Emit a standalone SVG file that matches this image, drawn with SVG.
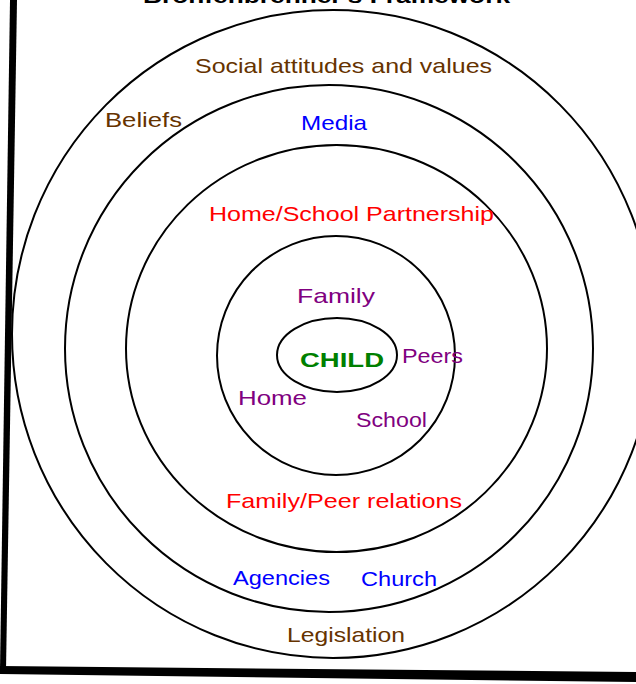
<svg xmlns="http://www.w3.org/2000/svg" width="636" height="684" viewBox="0 0 636 684">
  <style>
    .ring { fill: none; stroke: #000; stroke-width: 2; }
    .lbl { font-family: "Liberation Sans", Arial, sans-serif; font-size: 21px; }
    .brown { fill: #663300; }
    .blue { fill: #0000FF; }
    .red { fill: #FF0000; }
    .purple { fill: #800080; }
    .green { fill: #008000; }
  </style>
  <rect width="636" height="684" fill="#fff"/>

  <!-- title, partly off the top edge -->
  <text class="lbl" x="143" y="3" font-size="22" font-weight="bold" textLength="367" lengthAdjust="spacingAndGlyphs" fill="#000">Bronfenbrenner's Framework</text>

  <!-- nested rings -->
  <g id="macrosystem">
    <ellipse class="ring" cx="333" cy="334" rx="321" ry="324"/>
    <text class="lbl brown" x="195" y="73" textLength="297" lengthAdjust="spacingAndGlyphs">Social attitudes and values</text>
    <text class="lbl brown" x="105" y="127" textLength="77" lengthAdjust="spacingAndGlyphs">Beliefs</text>
    <text class="lbl brown" x="287" y="642" textLength="118" lengthAdjust="spacingAndGlyphs">Legislation</text>
  </g>
  <g id="exosystem">
    <ellipse class="ring" cx="329" cy="348.5" rx="264" ry="263.5"/>
    <text class="lbl blue" x="301" y="130" textLength="66" lengthAdjust="spacingAndGlyphs">Media</text>
    <text class="lbl blue" x="233" y="585" textLength="97" lengthAdjust="spacingAndGlyphs">Agencies</text>
    <text class="lbl blue" x="361" y="586" textLength="76" lengthAdjust="spacingAndGlyphs">Church</text>
  </g>
  <g id="mesosystem">
    <ellipse class="ring" cx="336.5" cy="348.5" rx="210.5" ry="203.5"/>
    <text class="lbl red" x="209" y="221" textLength="285" lengthAdjust="spacingAndGlyphs">Home/School Partnership</text>
    <text class="lbl red" x="226" y="508" textLength="236" lengthAdjust="spacingAndGlyphs">Family/Peer relations</text>
  </g>
  <g id="microsystem">
    <ellipse class="ring" cx="336" cy="355.5" rx="119" ry="119.5"/>
    <text class="lbl purple" x="297" y="303" font-size="23" textLength="78" lengthAdjust="spacingAndGlyphs">Family</text>
    <text class="lbl purple" x="402" y="363" font-size="19" textLength="61" lengthAdjust="spacingAndGlyphs">Peers</text>
    <text class="lbl purple" x="238" y="405" font-size="23" textLength="69" lengthAdjust="spacingAndGlyphs">Home</text>
    <text class="lbl purple" x="356" y="427" textLength="71" lengthAdjust="spacingAndGlyphs">School</text>
  </g>
  <g id="child">
    <ellipse class="ring" cx="337" cy="355" rx="60" ry="37"/>
    <text class="lbl green" x="300" y="367" font-size="25" font-weight="bold" textLength="84" lengthAdjust="spacingAndGlyphs">CHILD</text>
  </g>

  <!-- slanted frame edges -->
  <g id="frame" fill="#000">
    <polygon points="10,0 17,0 6,670 0,670"/>
    <polygon points="0,666 636,672 636,682 0,674"/>
  </g>
</svg>
